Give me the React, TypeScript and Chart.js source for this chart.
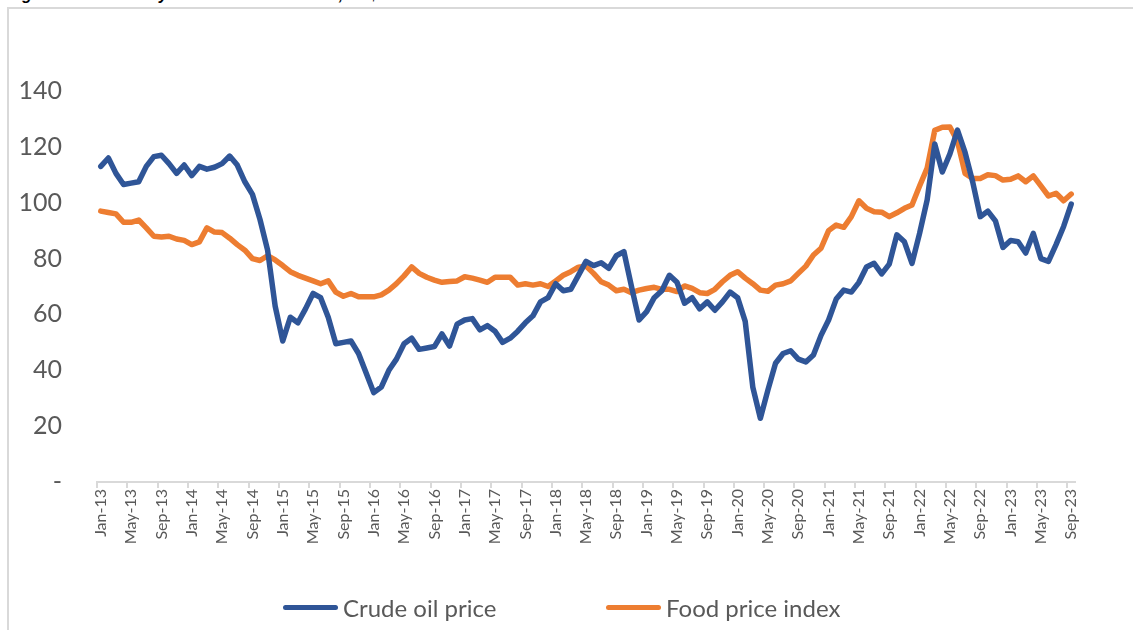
import React, { useEffect, useRef } from "react";
import { Chart, registerables } from "chart.js";

Chart.register(...registerables);

const MONTHS = ["Jan", "Feb", "Mar", "Apr", "May", "Jun", "Jul", "Aug", "Sep", "Oct", "Nov", "Dec"];
const YEARS = ["13", "14", "15", "16", "17", "18", "19", "20", "21", "22", "23"];
const LAST_MONTH_2023 = 9; // data run Jan-13 to Sep-23

const labels: string[] = [];
YEARS.forEach((y, yi) => {
  const n = yi === YEARS.length - 1 ? LAST_MONTH_2023 : 12;
  for (let m = 0; m < n; m++) labels.push(`${MONTHS[m]}-${y}`);
});

const crudeOil = [
  113, 116, 110.5, 106.5, 107, 107.5, 113, 116.5, 117, 114, 110.5, 113.5,
  109.7, 113, 112, 112.7, 114, 116.7, 113.5, 107.5, 103, 94, 83, 63,
  50.5, 59, 57, 62, 67.5, 66, 59, 49.5, 50, 50.5, 46, 39,
  32, 34, 40, 44, 49.5, 51.5, 47.5, 48, 48.5, 53, 48.7, 56.5,
  58, 58.5, 54.5, 56, 54, 50, 51.5, 54, 57, 59.5, 64.5, 66,
  71, 68.5, 69, 74, 79, 77.5, 78.5, 76.5, 81, 82.5, 70, 58,
  61, 66, 68.5, 74, 71.5, 64, 66, 62, 64.5, 61.5, 64.5, 68,
  66, 57.5, 34, 22.8, 33, 42.5, 46, 47, 44, 43, 45.5, 52.5,
  58, 65.5, 68.7, 68, 71.5, 77, 78.3, 74.5, 78, 88.5, 86, 78.3,
  89, 101, 121, 111, 117.5, 126, 118, 107.5, 95, 97, 93.5, 84,
  86.5, 86, 82, 89, 80, 79, 85, 91.5, 99.5,
];

const foodPrice = [
  97, 96.5, 96, 93, 93, 93.8, 91, 88, 87.7, 88, 87, 86.5,
  85, 86, 91, 89.5, 89.3, 87.3, 85, 83, 80, 79.3, 81, 79.5,
  77.5, 75.3, 74, 73, 72, 71, 72, 68, 66.5, 67.5, 66.3, 66.3,
  66.3, 67, 68.7, 71, 73.8, 77, 74.7, 73.3, 72.3, 71.5, 71.8, 72,
  73.5, 73, 72.3, 71.5, 73.3, 73.3, 73.3, 70.5, 71, 70.5, 71, 70,
  72, 74, 75.3, 76.9, 77.3, 74.7, 71.7, 70.5, 68.5, 69, 67.8, 68.7,
  69.3, 69.7, 69, 69, 68.2, 70.2, 69.3, 67.8, 67.5, 69, 71.7, 74,
  75.3, 73, 71, 68.7, 68.3, 70.5, 71, 72, 74.7, 77.3, 81.3, 83.7,
  90, 92, 91.2, 95, 100.7, 98, 96.8, 96.6, 95, 96.4, 98, 99.2,
  106, 112.4, 125.9, 127, 127.1, 122, 110.5, 108.7, 108.7, 110, 109.7, 108.1,
  108.4, 109.6, 107.5, 109.6, 106, 102.4, 103.4, 100.7, 103.1,
];

const Y_TICKS = [0, 20, 40, 60, 80, 100, 120, 140];
const SERIES_NAMES = ["Crude oil price", "Food price index"];
const COLORS = ["#2F5597", "#ED7D31"];
const TEXT = "#595959";
const FONT = "Lato, 'Open Sans', sans-serif";

export default function App() {
  const ref = useRef<HTMLCanvasElement | null>(null);

  useEffect(() => {
    if (!ref.current) return;
    const chart = new Chart(ref.current, {
      type: "line",
      data: {
        labels,
        datasets: [
          {
            label: SERIES_NAMES[0],
            data: crudeOil,
            borderColor: COLORS[0],
            backgroundColor: COLORS[0],
            borderWidth: 5.5,
            pointRadius: 0,
            tension: 0,
            borderJoinStyle: "round",
            borderCapStyle: "round",
          },
          {
            label: SERIES_NAMES[1],
            data: foodPrice,
            borderColor: COLORS[1],
            backgroundColor: COLORS[1],
            borderWidth: 5.5,
            pointRadius: 0,
            tension: 0,
            borderJoinStyle: "round",
            borderCapStyle: "round",
          },
        ],
      },
      options: {
        responsive: false,
        animation: false,
        layout: { padding: { left: 0, right: 58, top: 91, bottom: 0 } },
        plugins: {
          legend: { display: false },
          title: { display: false },
          tooltip: { enabled: false },
        },
        scales: {
          x: {
            type: "category",
            offset: true,
            afterFit: (s: any) => {
              s.height = 148;
            },
            grid: {
              offset: true,
              drawOnChartArea: false,
              drawTicks: true,
              tickLength: 6,
              lineWidth: 2,
              color: (ctx: any) =>
                typeof ctx.index === "number" && ctx.index % 4 === 0 ? "#D9D9D9" : "rgba(0,0,0,0)",
            },
            border: { display: true, color: "#D9D9D9", width: 2 },
            ticks: {
              autoSkip: false,
              maxRotation: 90,
              minRotation: 90,
              padding: 1,
              color: TEXT,
              font: { family: FONT, size: 16 },
              callback: (_v: any, i: number) => (i % 4 === 0 ? labels[i] : ""),
            },
          },
          y: {
            min: Y_TICKS[0],
            max: Y_TICKS[Y_TICKS.length - 1],
            afterFit: (s: any) => {
              s.width = 97;
            },
            afterBuildTicks: (s: any) => {
              s.ticks = Y_TICKS.map((v) => ({ value: v }));
            },
            grid: { display: false, drawTicks: false },
            border: { display: false },
            ticks: {
              padding: 35,
              color: TEXT,
              font: { family: FONT, size: 25 },
              callback: (v: any) => (v === 0 ? "-" : String(v)),
            },
          },
        },
      },
    });
    return () => chart.destroy();
  }, []);

  return (
    <div style={{ position: "fixed", left: 0, top: 0, width: 1133, height: 630, overflow: "hidden", background: "#fff" }}>
      <div
        style={{
          position: "absolute",
          left: 8,
          top: -13,
          fontFamily: "'Liberation Sans', Arial, sans-serif",
          fontWeight: "bold",
          fontStyle: "italic",
          fontSize: 16,
          lineHeight: "16px",
          color: "#000",
          whiteSpace: "nowrap",
        }}
      >
        Figure 3: Commodity Price Index 2013-2023, US$
      </div>
      <div
        style={{
          position: "absolute",
          left: 7,
          top: 7,
          width: 1160,
          height: 660,
          border: "2px solid #D9D9D9",
          boxSizing: "border-box",
        }}
      />
      <canvas ref={ref} width={1133} height={630} style={{ position: "absolute", left: 0, top: 0 }} />
      {SERIES_NAMES.map((name, i) => (
        <div
          key={name}
          style={{
            position: "absolute",
            left: i === 0 ? 283 : 606,
            top: 592,
            height: 30,
            display: "flex",
            alignItems: "center",
            fontFamily: FONT,
            fontSize: 24,
            color: TEXT,
            whiteSpace: "nowrap",
          }}
        >
          <span
            style={{
              display: "inline-block",
              width: 55,
              height: 5,
              borderRadius: 3,
              background: COLORS[i],
              marginRight: 5,
            }}
          />
          <span>{name}</span>
        </div>
      ))}
    </div>
  );
}
